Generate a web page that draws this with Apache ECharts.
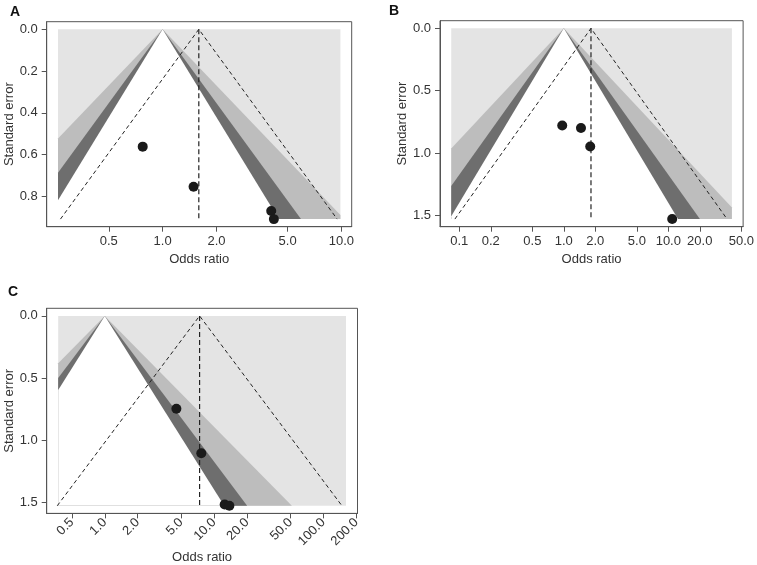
<!DOCTYPE html>
<html>
<head>
<meta charset="utf-8">
<script src="https://cdn.jsdelivr.net/npm/echarts@6/dist/echarts.min.js"></script>
<style>html,body{margin:0;padding:0;background:#fff}#chart{width:757px;height:565px}</style>
</head>
<body>
<div id="chart"></div>
<script>
// ---- Data (odds ratios and standard errors) ----
const orA = [0.774, 1.49, 4.05, 4.19];
const seA = [0.562, 0.754, 0.870, 0.909];
const pooledA = 1.594;
const xRangeA = [0.26, 9.87];
const xTicksA = [0.5, 1, 2, 5, 10];
const xTickLabelsA = ['0.5', '1.0', '2.0', '5.0', '10.0'];
const yTicksA = [0, 0.2, 0.4, 0.6, 0.8];

const orB = [0.966, 1.46, 1.79, 10.9];
const seB = [0.78, 0.80, 0.948, 1.53];
const pooledB = 1.82;
const xRangeB = [0.0837, 40.6];
const xTicksB = [0.1, 0.2, 0.5, 1, 2, 5, 10, 20, 50];
const xTickLabelsB = ['0.1', '0.2', '0.5', '1.0', '2.0', '5.0', '10.0', '20.0', '50.0'];
const yTicksB = [0, 0.5, 1.0, 1.5];

const orC = [4.52, 7.64, 12.5, 13.8];
const seC = [0.748, 1.106, 1.52, 1.53];
const pooledC = 7.37;
const xRangeC = [0.375, 161];
const xTicksC = [0.5, 1, 2, 5, 10, 20, 50, 100, 200];
const xTickLabelsC = ['0.5', '1.0', '2.0', '5.0', '10.0', '20.0', '50.0', '100.0', '200.0'];
const yTicksC = [0, 0.5, 1.0, 1.5];

// contour levels (z for p = 0.01, 0.05, 0.10) and pseudo-CI z
const contourZ = [2.576, 1.96, 1.645];
const ciZ = 1.96;
const contourColors = ['#e4e4e4', '#bdbdbd', '#6e6e6e', '#ffffff'];

const panels = [
  { letter: 'A', or: orA, se: seA, pooled: pooledA, xr: xRangeA, xt: xTicksA, xl: xTickLabelsA, yt: yTicksA, rot: 0,
    grid: { left: 46.7, top: 21.7, width: 305, height: 205 }, lx: 10, ly: 13 },
  { letter: 'B', or: orB, se: seB, pooled: pooledB, xr: xRangeB, xt: xTicksB, xl: xTickLabelsB, yt: yTicksB, rot: 0,
    grid: { left: 440, top: 20.7, width: 304.3, height: 206 }, lx: 389, ly: 12 },
  { letter: 'C', or: orC, se: seC, pooled: pooledC, xr: xRangeC, xt: xTicksC, xl: xTickLabelsC, yt: yTicksC, rot: 45,
    grid: { left: 46.7, top: 308.3, width: 310.8, height: 206 }, lx: 8, ly: 293 }
];

function clip(pts, inside, inter) {
  const out = [];
  for (let i = 0; i < pts.length; i++) {
    const a = pts[i], b = pts[(i + 1) % pts.length];
    const ia = inside(a), ib = inside(b);
    if (ia) out.push(a);
    if (ia !== ib) out.push(inter(a, b));
  }
  return out;
}
function clipX(pts, lo, hi) {
  const ix = (x) => (a, b) => { const t = (x - a[0]) / (b[0] - a[0]); return [x, a[1] + t * (b[1] - a[1])]; };
  let p = clip(pts, q => q[0] >= lo, ix(lo));
  p = clip(p, q => q[0] <= hi, ix(hi));
  return p;
}

const FONT = '"Liberation Sans", Arial, sans-serif';
const grids = [], xAxes = [], yAxes = [], series = [], graphics = [];

panels.forEach((P, i) => {
  const lo = Math.log(P.xr[0]), hi = Math.log(P.xr[1]);
  const seMax = Math.max(...P.se);
  const pad = (hi - lo) * 0.04;
  const lp = Math.log(P.pooled);
  grids.push(Object.assign({ show: true, borderColor: '#555', borderWidth: 1, backgroundColor: 'transparent' }, P.grid));
  const xlog = P.xt.map(Math.log);
  xAxes.push({
    gridIndex: i, type: 'value', min: lo - pad, max: hi + pad, position: 'bottom',
    axisLine: { show: true, onZero: false, lineStyle: { color: '#555', width: 1 } },
    splitLine: { show: false },
    axisTick: { show: true, customValues: xlog, length: 5, lineStyle: { color: '#555' } },
    axisLabel: {
      customValues: xlog, color: '#333', fontSize: 13, fontFamily: FONT, margin: P.rot ? 7 : 8, rotate: P.rot,
      formatter: (v) => { let bi = 0, bd = Infinity; xlog.forEach((t, k) => { const d = Math.abs(t - v); if (d < bd) { bd = d; bi = k; } }); return P.xl[bi]; }
    },
    name: 'Odds ratio', nameLocation: 'middle', nameGap: P.rot ? 37 : 26,
    nameTextStyle: { color: '#333', fontSize: 13, fontFamily: FONT }
  });
  yAxes.push({
    gridIndex: i, type: 'value', inverse: true, min: -0.04 * seMax, max: seMax * 1.04,
    axisLine: { show: true, onZero: false, lineStyle: { color: '#555', width: 1 } },
    splitLine: { show: false },
    axisTick: { show: true, customValues: P.yt, length: 5, lineStyle: { color: '#555' } },
    axisLabel: { customValues: P.yt, color: '#333', fontSize: 13, fontFamily: FONT, margin: 9, formatter: v => v.toFixed(1) },
    name: 'Standard error', nameLocation: 'middle', nameGap: 29,
    nameTextStyle: { color: '#333', fontSize: 13, fontFamily: FONT }
  });

  // contour-enhanced regions
  const layers = [];
  layers.push([[lo, 0], [hi, 0], [hi, seMax], [lo, seMax]]);
  contourZ.forEach(z => {
    layers.push(clipX([[0, 0], [z * seMax, seMax], [-z * seMax, seMax]], lo, hi));
  });
  series.push({
    type: 'custom', xAxisIndex: i, yAxisIndex: i, clip: true, silent: true, z: 1,
    data: layers.map((l, k) => [lo, 0, k]),
    renderItem: (params, api) => {
      const k = params.dataIndex;
      const pts = layers[k].map(p => api.coord(p));
      return { type: 'polygon', shape: { points: pts }, style: { fill: contourColors[k], stroke: null } };
    }
  });
  // pseudo confidence funnel around pooled estimate
  const dashStyle = { color: '#222', width: 1, type: [4, 3] };
  series.push({
    type: 'line', xAxisIndex: i, yAxisIndex: i, symbol: 'none', silent: true, z: 3,
    data: [[lp - ciZ * seMax, seMax], [lp, 0], [lp + ciZ * seMax, seMax]],
    lineStyle: dashStyle
  });
  series.push({
    type: 'line', xAxisIndex: i, yAxisIndex: i, symbol: 'none', silent: true, z: 3,
    data: [[lp, 0], [lp, seMax]],
    lineStyle: { color: '#222', width: 1.2, type: [5, 3] }
  });
  series.push({
    type: 'scatter', xAxisIndex: i, yAxisIndex: i, symbol: 'circle', symbolSize: 10, z: 4,
    itemStyle: { color: '#1a1a1a', opacity: 1 },
    data: P.or.map((o, k) => [Math.log(o), P.se[k]])
  });
  graphics.push({ type: 'text', left: P.lx, top: P.ly - 8, style: { text: P.letter, font: 'bold 14px ' + FONT, fill: '#111' } });
});

const chart = echarts.init(document.getElementById('chart'), null, { renderer: 'canvas' });
chart.setOption({
  animation: false,
  backgroundColor: '#fff',
  grid: grids, xAxis: xAxes, yAxis: yAxes, series: series, graphic: graphics
});
</script>
</body>
</html>
